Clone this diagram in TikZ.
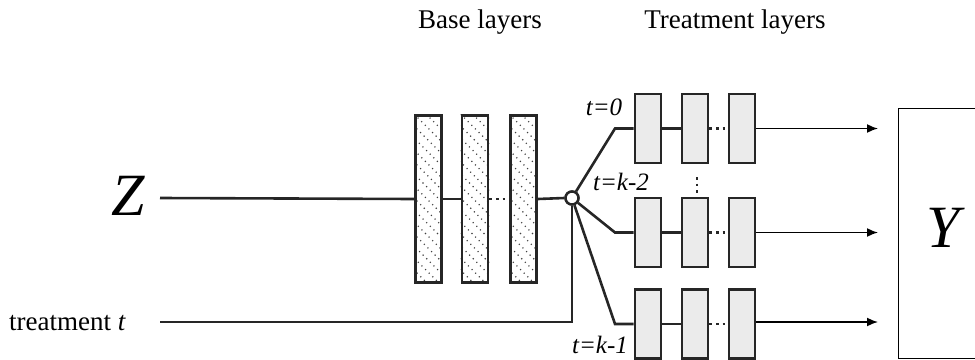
\documentclass[tikz,border=0pt]{standalone}
\usepackage{fontspec}
\setmainfont{Liberation Serif}
\usetikzlibrary{arrows.meta}
\begin{document}
\begin{tikzpicture}[x=1pt,y=-1pt]
\tikzset{
  basebox/.style={draw=black!85, line width=2.8pt, fill=white, minimum width=26pt, minimum height=167pt, inner sep=0pt},
  treatbox/.style={draw=black!85, line width=2.8pt, fill=black!8, minimum width=26pt, minimum height=69pt, inner sep=0pt},
  wire/.style={draw=black!85, line width=2.6pt},
  dotwire/.style={draw=black!85, line width=2.6pt, dash pattern=on 2.6pt off 4pt},
  outarrow/.style={draw=black, line width=1.6pt, -{Latex[length=11pt,width=9pt]}},
  hatch/.style={draw=black!75, line width=1.1pt, dash pattern=on 1.1pt off 4pt},
  tlab/.style={font=\fontsize{25}{27}\selectfont\itshape, inner sep=0pt},
  head/.style={font=\fontsize{27}{30}\selectfont, inner sep=0pt},
  big/.style={font=\fontsize{60}{64}\selectfont\itshape, inner sep=0pt}
}
\useasboundingbox (0,0) rectangle (975,359);
\clip (0,0) rectangle (975,359);

% headings
\node[head] (hb) at (480,22) {Base layers};
\node[head] (ht) at (735,22) {Treatment layers};

% base layers
\node[basebox] (b1) at (428.5,199) {};
\node[basebox] (b2) at (475,199) {};
\node[basebox] (b3) at (523.5,199) {};
\foreach \b in {b1,b2,b3}{
  \begin{scope}
    \clip (\b.south west) rectangle (\b.north east);
    \foreach \i in {-180,-168,...,40}{
      \draw[hatch] ([xshift=\i pt]\b.north west) -- ++(200,200);
    }
  \end{scope}
  \node[basebox, fill=none] at (\b) {};
}

% treatment layers
\foreach \r/\y in {1/128.5, 2/232.5, 3/324}{
  \node[treatbox] (t\r1) at (648,\y) {};
  \node[treatbox] (t\r2) at (695,\y) {};
  \node[treatbox] (t\r3) at (742,\y) {};
}

% junction
\node[draw=black!85, line width=2.4pt, fill=white, circle, minimum size=13pt, inner sep=0pt] (c) at (572,198) {};

% labels
\node[big] (z) at (128,196) {Z};
\node[head, anchor=west] (tr) at (9,323) {treatment \textit{t}};
\node[tlab] (l0) at (604,107) {t=0};
\node[tlab] (l2) at (621,182) {t=k-2};
\node[tlab] (l1) at (600,345) {t=k-1};

% coordinates
\coordinate (zs) at (160,198);
\coordinate (ts) at (160,322);
\coordinate (k1) at (615,128.5);
\coordinate (k2) at (615,232.5);
\coordinate (k3) at (615,324);
\coordinate (v1) at (697,177);
\coordinate (v2) at (697,194);

% base wires
\draw[wire] (zs) -- (b1.west);
\draw[wire] (b1.east) -- (b2.west);
\draw[dotwire] (b2.east) -- (b3.west);
\draw[wire] (b3.east) -- (c.west);
\draw[wire] (ts) -| (c.south);

% branches
\draw[wire] (c) -- (k1) -- (t11.west);
\draw[wire] (c) -- (k2) -- (t21.west);
\draw[wire] (c) -- (k3) -- (t31.west);
\foreach \r in {1,2,3}{
  \draw[wire] (t\r1.east) -- (t\r2.west);
  \draw[dotwire] (t\r2.east) -- (t\r3.west);
}
\draw[dotwire] (v1) -- (v2);
\node[draw=black!85, line width=2.4pt, fill=white, circle, minimum size=13pt, inner sep=0pt] at (c) {};

% output
\node[draw=black, line width=1.3pt, anchor=north west, minimum width=100pt, minimum height=250pt, inner sep=0pt] (ybox) at (898,108) {};
\node[big] (y) at (943,228) {Y};
\coordinate (a1) at (878,128.5);
\coordinate (a2) at (878,232.5);
\coordinate (a3) at (878,322);
\draw[outarrow] (t13.east) -- (a1);
\draw[outarrow] (t23.east) -- (a2);
\draw[outarrow] (t33.east |- a3) -- (a3);
\end{tikzpicture}
\end{document}
